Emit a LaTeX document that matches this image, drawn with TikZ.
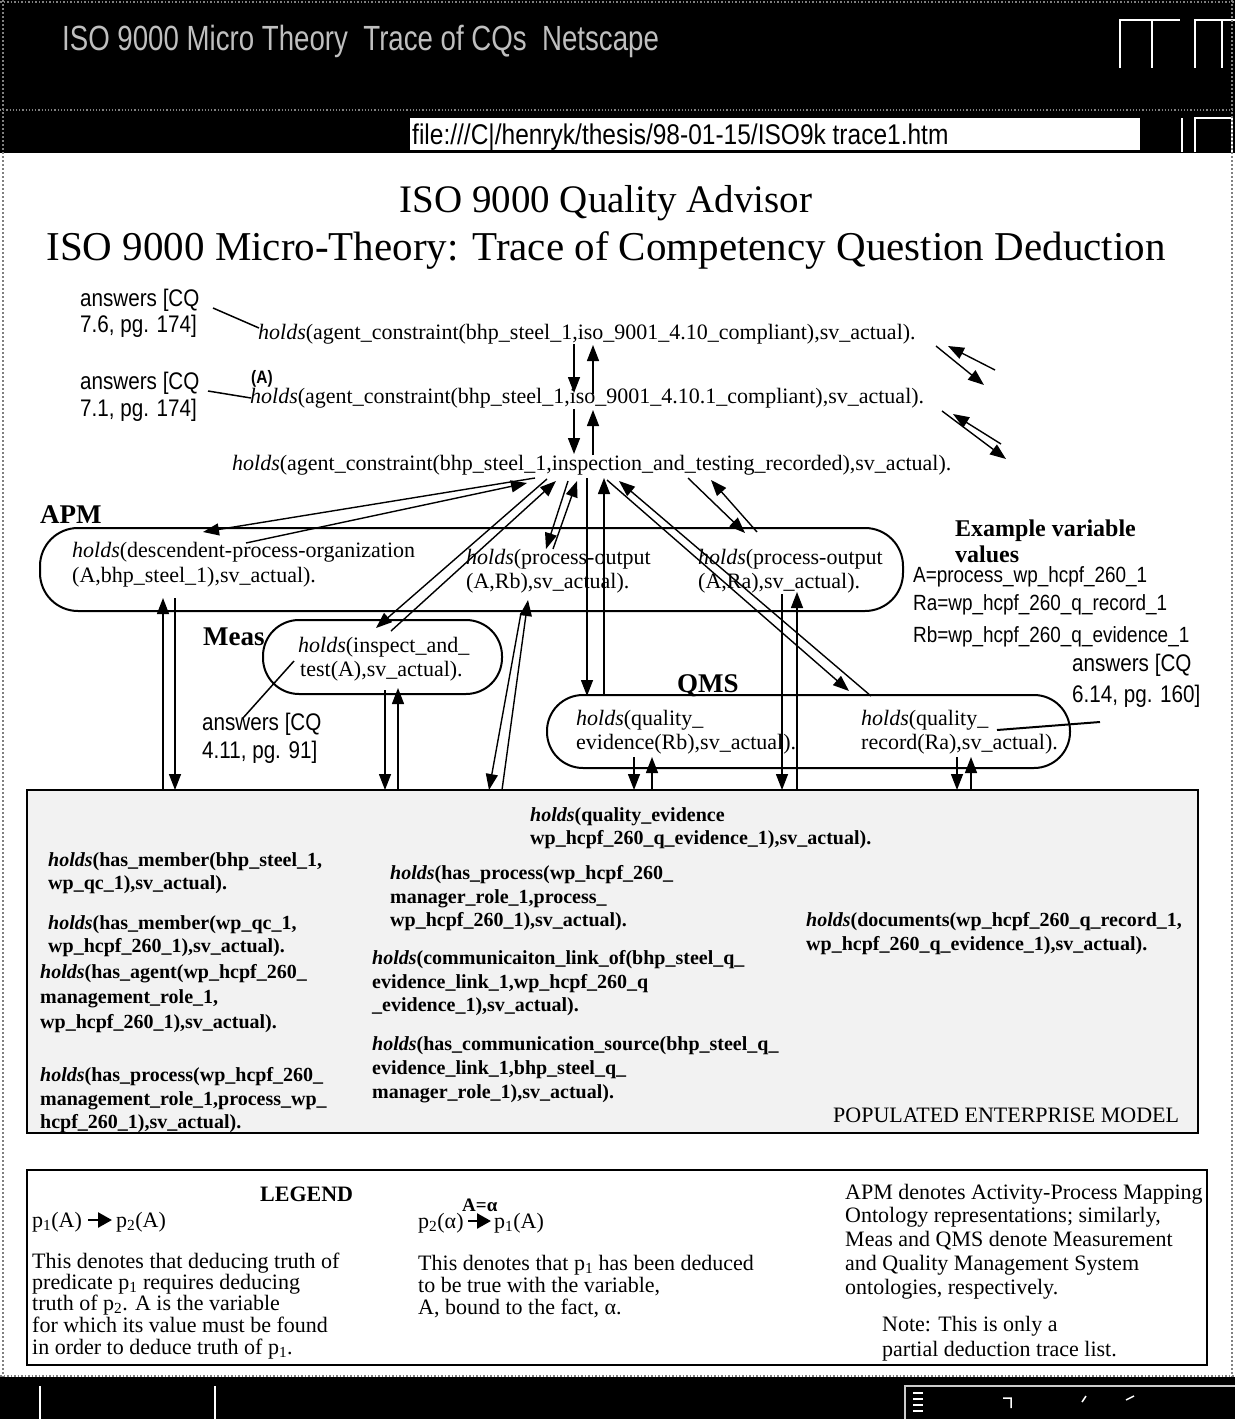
\documentclass[tikz,border=0pt]{standalone}
\usepackage{fontspec}
\setmainfont{Liberation Serif}
\newfontfamily\narrow[FakeStretch=0.86]{Liberation Sans}
\newfontfamily\chrome[FakeStretch=0.79]{Liberation Sans}
\usetikzlibrary{arrows.meta}
\newcommand\hld{\textit{holds}}
\begin{document}
\begin{tikzpicture}[x=1pt,y=-1pt,
  txt/.style={inner sep=0pt, anchor=base west},
  hl/.style={txt, font=\fontsize{22}{24}\selectfont},
  fact/.style={txt, font=\fontsize{20}{22}\selectfont\bfseries},
  ans/.style={txt, font=\narrow\fontsize{24}{26}\selectfont},
  val/.style={txt, font=\narrow\fontsize{22}{24}\selectfont},
  lbl/.style={txt, font=\fontsize{27}{29}\selectfont\bfseries},
  leg/.style={txt, font=\fontsize{22}{24}\selectfont},
  stad/.style={draw, line width=2pt, rounded corners=36pt, inner sep=0pt},
  ar/.style={line width=1.4pt, -{Triangle[length=16pt,width=12pt]}},
  ln/.style={line width=1.5pt},
  legar/.style={line width=2.4pt, -{Triangle[length=14pt,width=15pt]}},
]
\useasboundingbox (0,0) rectangle (1235,1419);
% ---------- window chrome ----------
\fill[black] (0,0) rectangle (1235,153);
\draw[gray, dotted, line width=1.5pt] (0,2) -- (1235,2);
\draw[gray, dotted, line width=1.2pt] (0,110) -- (1235,110);
\node[txt, font=\chrome\fontsize{35}{37}\selectfont, text=black!25] (wtitle) at (62,50) {ISO 9000 Micro Theory\ \ Trace of CQs\ \ Netscape};
\draw[white, line width=1.4pt] (1120,68) -- (1120,20) -- (1180,20) (1152,20) -- (1152,68) (1195,68) -- (1195,20) -- (1235,20) (1222,20) -- (1222,68);
\node[fill=white, minimum width=730, minimum height=32, inner sep=0pt] (urlbox) at (775,134) {};
\node[txt, font=\narrow\fontsize{28.5}{30}\selectfont] (url) at (412,144) {file:///C\textbar/henryk/thesis/98-01-15/ISO9k trace1.htm};
\draw[white, line width=1.2pt] (1182,118) -- (1182,152) (1195,152) -- (1195,118) -- (1232,118) -- (1232,152);
\fill[white] (8,153) rectangle (1228,1376);
\draw[gray, dotted, line width=2pt] (3,0) -- (3,1419) (1232,0) -- (1232,1419);
\fill[black] (0,1377) rectangle (1235,1419);
\draw[gray, dotted, line width=1.5pt] (0,1376) -- (1235,1376);
\draw[white, line width=1.3pt] (40,1386) -- (40,1419) (215,1386) -- (215,1419);
\draw[white!80!black, line width=1.3pt] (905,1419) -- (905,1386) -- (1235,1386);
\draw[white, line width=1.2pt] (913,1393) -- (923,1393) (913,1399) -- (923,1399) (913,1405) -- (923,1405) (913,1411) -- (923,1411);
\draw[white, line width=1.5pt] (1003,1398) -- (1011,1398) -- (1011,1408) (1082,1402) -- (1086,1396) (1126,1400) -- (1134,1396);
% ---------- titles ----------
\node[inner sep=0pt, anchor=base, font=\fontsize{39}{41}\selectfont] (t1) at (606,212) {ISO 9000 Quality Advisor};
\node[inner sep=0pt, anchor=base, font=\fontsize{41}{43}\selectfont] (t2) at (606,260) {ISO 9000 Micro-Theory: Trace of Competency Question Deduction};
% ---------- top chain ----------
\node[ans] (a1a) at (80,306) {answers [CQ};
\node[ans] (a1b) at (80,332) {7.6, pg. 174]};
\node[hl] (h1) at (258,339) {\hld(agent\_constraint(bhp\_steel\_1,iso\_9001\_4.10\_compliant),sv\_actual).};
\node[ans] (a2a) at (80,389) {answers [CQ};
\node[ans] (a2b) at (80,416) {7.1, pg. 174]};
\node[txt, font=\narrow\fontsize{18}{20}\selectfont\bfseries] (alab) at (251,383) {(A)};
\node[hl] (h2) at (250,403) {\hld(agent\_constraint(bhp\_steel\_1,iso\_9001\_4.10.1\_compliant),sv\_actual).};
\node[hl] (h3) at (232,470) {\hld(agent\_constraint(bhp\_steel\_1,inspection\_and\_testing\_recorded),sv\_actual).};
% ---------- APM ----------
\node[lbl] (apmlab) at (40,523) {APM};
\node[stad, rounded corners=38pt, minimum width=863, minimum height=83] (apm) at (471.5,569.5) {};
\node[hl] (desc1) at (72,557) {\hld(descendent-process-organization};
\node[hl] (desc2) at (72,582) {(A,bhp\_steel\_1),sv\_actual).};
\node[hl] (rb1) at (466,564) {\hld(process-output};
\node[hl] (rb2) at (466,588) {(A,Rb),sv\_actual).};
\node[hl] (ra1) at (698,564) {\hld(process-output};
\node[hl] (ra2) at (698,588) {(A,Ra),sv\_actual).};
% ---------- example values ----------
\node[txt, font=\fontsize{24}{26}\selectfont\bfseries] (ex1) at (955,536) {Example variable};
\node[txt, font=\fontsize{24}{26}\selectfont\bfseries] (ex2) at (955,562) {values};
\node[val] (va) at (913,582) {A=process\_wp\_hcpf\_260\_1};
\node[val] (vra) at (913,610) {Ra=wp\_hcpf\_260\_q\_record\_1};
\node[val] (vrb) at (913,642) {Rb=wp\_hcpf\_260\_q\_evidence\_1};
\node[ans] (a4a) at (1072,671) {answers [CQ};
\node[ans] (a4b) at (1072,702) {6.14, pg. 160]};
% ---------- Meas ----------
\node[lbl] (measlab) at (203,645) {Meas};
\node[stad, minimum width=239, minimum height=74] (meas) at (382.5,657) {};
\node[hl] (m1) at (298,652) {\hld(inspect\_and\_};
\node[hl] (m2) at (300,676) {test(A),sv\_actual).};
\node[ans] (a3a) at (202,730) {answers [CQ};
\node[ans] (a3b) at (202,758) {4.11, pg. 91]};
% ---------- QMS ----------
\node[lbl] (qmslab) at (677,692) {QMS};
\node[stad, minimum width=523, minimum height=73] (qms) at (808.5,731.5) {};
\node[hl] (qe1) at (576,725) {\hld(quality\_};
\node[hl] (qe2) at (576,749) {evidence(Rb),sv\_actual).};
\node[hl] (qr1) at (861,725) {\hld(quality\_};
\node[hl] (qr2) at (861,749) {record(Ra),sv\_actual).};
% ---------- populated enterprise model ----------
\node[draw, fill=black!5, line width=1.6pt, minimum width=1171, minimum height=343, inner sep=0pt] (pem) at (612.5,961.5) {};
\node[fact] (p1a) at (530,821) {\hld(quality\_evidence};
\node[fact] (p1b) at (530,844) {wp\_hcpf\_260\_q\_evidence\_1),sv\_actual).};
\node[fact] (p2a) at (48,866) {\hld(has\_member(bhp\_steel\_1,};
\node[fact] (p2b) at (48,889) {wp\_qc\_1),sv\_actual).};
\node[fact] (p3a) at (390,879) {\hld(has\_process(wp\_hcpf\_260\_};
\node[fact] (p3b) at (390,903) {manager\_role\_1,process\_};
\node[fact] (p3c) at (390,926) {wp\_hcpf\_260\_1),sv\_actual).};
\node[fact] (p4a) at (48,929) {\hld(has\_member(wp\_qc\_1,};
\node[fact] (p4b) at (48,952) {wp\_hcpf\_260\_1),sv\_actual).};
\node[fact] (p5a) at (806,926) {\hld(documents(wp\_hcpf\_260\_q\_record\_1,};
\node[fact] (p5b) at (806,950) {wp\_hcpf\_260\_q\_evidence\_1),sv\_actual).};
\node[fact] (p6a) at (372,964) {\hld(communicaiton\_link\_of(bhp\_steel\_q\_};
\node[fact] (p6b) at (372,988) {evidence\_link\_1,wp\_hcpf\_260\_q};
\node[fact] (p6c) at (372,1011) {\_evidence\_1),sv\_actual).};
\node[fact] (p7a) at (40,978) {\hld(has\_agent(wp\_hcpf\_260\_};
\node[fact] (p7b) at (40,1003) {management\_role\_1,};
\node[fact] (p7c) at (40,1028) {wp\_hcpf\_260\_1),sv\_actual).};
\node[fact] (p8a) at (372,1050) {\hld(has\_communication\_source(bhp\_steel\_q\_};
\node[fact] (p8b) at (372,1074) {evidence\_link\_1,bhp\_steel\_q\_};
\node[fact] (p8c) at (372,1098) {manager\_role\_1),sv\_actual).};
\node[fact] (p9a) at (40,1081) {\hld(has\_process(wp\_hcpf\_260\_};
\node[fact] (p9b) at (40,1105) {management\_role\_1,process\_wp\_};
\node[fact] (p9c) at (40,1128) {hcpf\_260\_1),sv\_actual).};
\node[txt, font=\fontsize{22}{24}\selectfont] (pemlab) at (833,1122) {POPULATED ENTERPRISE MODEL};
% ---------- legend ----------
\node[draw, line width=1.6pt, minimum width=1180, minimum height=195, inner sep=0pt] (legbox) at (617,1267.5) {};
\node[txt, font=\fontsize{22}{24}\selectfont\bfseries] (legt) at (260,1201) {LEGEND};
\node[leg] (lp1) at (32,1227) {p\textsubscript{1}(A)};
\node[leg] (lp2) at (116,1227) {p\textsubscript{2}(A)};
\coordinate (la1) at (88,1220); \coordinate (la2) at (112,1220);
\draw[legar] (la1) -- (la2);
\node[leg] (l1) at (32,1268) {This denotes that deducing truth of};
\node[leg] (l2) at (32,1289) {predicate p\textsubscript{1} requires deducing};
\node[leg] (l3) at (32,1310) {truth of p\textsubscript{2}. A is the variable};
\node[leg] (l4) at (32,1332) {for which its value must be found};
\node[leg] (l5) at (32,1354) {in order to deduce truth of p\textsubscript{1}.};
\node[leg] (mp2) at (418,1228) {p\textsubscript{2}(α)};
\node[txt, font=\fontsize{19}{20}\selectfont\bfseries] (meq) at (462,1211) {A=α};
\node[leg] (mp1) at (494,1228) {p\textsubscript{1}(A)};
\coordinate (ma1) at (468,1221); \coordinate (ma2) at (491,1221);
\draw[legar] (ma1) -- (ma2);
\node[leg] (m1l) at (418,1270) {This denotes that p\textsubscript{1} has been deduced};
\node[leg] (m2l) at (418,1292) {to be true with the variable,};
\node[leg] (m3l) at (418,1314) {A, bound to the fact, α.};
\node[leg] (r1) at (845,1199) {APM denotes Activity-Process Mapping};
\node[leg] (r2) at (845,1222) {Ontology representations; similarly,};
\node[leg] (r3) at (845,1246) {Meas and QMS denote Measurement};
\node[leg] (r4) at (845,1270) {and Quality Management System};
\node[leg] (r5) at (845,1294) {ontologies, respectively.};
\node[leg] (n1) at (882,1331) {Note: This is only a};
\node[leg] (n2) at (882,1356) {partial deduction trace list.};
% ---------- connector coordinates ----------
\coordinate (c1a) at (213,308); \coordinate (c1b) at (259,328);
\coordinate (c2a) at (208,391); \coordinate (c2b) at (251,398);
\coordinate (c3a) at (243,718); \coordinate (c3b) at (294,661);
\coordinate (c4a) at (1100,722); \coordinate (c4b) at (997,730);
\draw[ln] (c1a) -- (c1b);
\draw[ln] (c2a) -- (c2b);
\draw[ln] (c3a) -- (c3b);
\draw[line width=2pt] (c4a) -- (c4b);
% chain arrows
\coordinate (v1a) at (574,344); \coordinate (v1b) at (574,393);
\coordinate (v1c) at (593,394); \coordinate (v1d) at (593,345);
\coordinate (v2a) at (574,409); \coordinate (v2b) at (574,454);
\coordinate (v2c) at (593,455); \coordinate (v2d) at (593,410);
\draw[ar] (v1a) -- (v1b); \draw[ar] (v1c) -- (v1d);
\draw[ar] (v2a) -- (v2b); \draw[ar] (v2c) -- (v2d);
\coordinate (d1a) at (936,346); \coordinate (d1b) at (984,385);
\coordinate (d1c) at (995,370); \coordinate (d1d) at (948,346);
\coordinate (d2a) at (942,411); \coordinate (d2b) at (1006,459);
\coordinate (d2c) at (1001,444); \coordinate (d2d) at (953,414);
\draw[ar] (d1a) -- (d1b); \draw[ar] (d1c) -- (d1d);
\draw[ar] (d2a) -- (d2b); \draw[ar] (d2c) -- (d2d);
% fan from h3
\coordinate (f1a) at (535,478); \coordinate (f1b) at (203,532);
\coordinate (f1c) at (246,543); \coordinate (f1d) at (527,483);
\coordinate (f2a) at (547,479); \coordinate (f2b) at (376,628);
\coordinate (f2c) at (391,631); \coordinate (f2d) at (556,481);
\coordinate (f3a) at (568,481); \coordinate (f3b) at (546,549);
\coordinate (f3c) at (553,549); \coordinate (f3d) at (577,481);
\coordinate (f4a) at (587,478); \coordinate (f4b) at (587,696);
\coordinate (f4c) at (604,696); \coordinate (f4d) at (604,478);
\coordinate (f5a) at (688,478); \coordinate (f5b) at (745,533);
\coordinate (f5c) at (757,532); \coordinate (f5d) at (711,480);
\coordinate (f6a) at (607,480); \coordinate (f6b) at (849,691);
\coordinate (f6c) at (871,696); \coordinate (f6d) at (619,481);
\foreach \n in {1,...,6} {
  \draw[ar] (f\n a) -- (f\n b);
  \draw[ar] (f\n c) -- (f\n d);
}
% arrows to the populated enterprise model
\coordinate (g1a) at (163,790); \coordinate (g1b) at (163,598);
\coordinate (g1c) at (175,598); \coordinate (g1d) at (175,790);
\coordinate (g2a) at (385,690); \coordinate (g2b) at (385,790);
\coordinate (g2c) at (398,790); \coordinate (g2d) at (398,688);
\coordinate (g3a) at (502,790); \coordinate (g3b) at (528,600);
\coordinate (g3c) at (521,613); \coordinate (g3d) at (489,790);
\coordinate (g4a) at (634,757); \coordinate (g4b) at (634,790);
\coordinate (g4c) at (652,790); \coordinate (g4d) at (652,757);
\coordinate (g5a) at (782,594); \coordinate (g5b) at (782,790);
\coordinate (g5c) at (797,790); \coordinate (g5d) at (797,592);
\coordinate (g6a) at (957,757); \coordinate (g6b) at (957,790);
\coordinate (g6c) at (971,790); \coordinate (g6d) at (971,757);
\foreach \n in {1,...,6} {
  \draw[ar] (g\n a) -- (g\n b);
  \draw[ar] (g\n c) -- (g\n d);
}
\end{tikzpicture}
\end{document}
